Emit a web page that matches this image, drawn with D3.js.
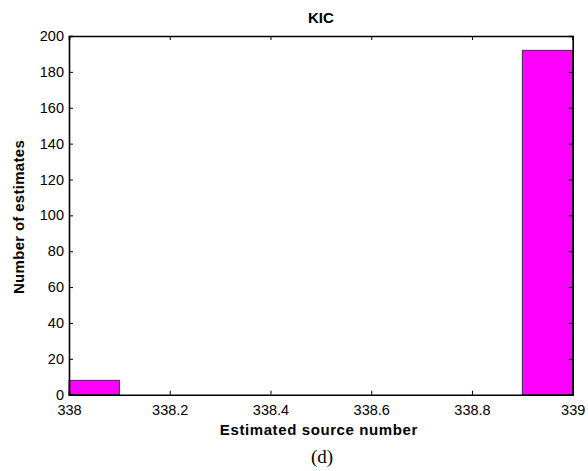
<!DOCTYPE html>
<html><head><meta charset="utf-8">
<script src="https://cdn.jsdelivr.net/npm/d3@7"></script>
<style>body{margin:0;background:#fff}svg{display:block}</style>
</head><body>
<svg id="c" width="588" height="471"></svg>
<script>
const binStarts = [338.0, 338.9];
const binEnds = [338.1, 339.0];
const counts = [8, 192];
const xTicks = [338, 338.2, 338.4, 338.6, 338.8, 339];
const yTicks = [0, 20, 40, 60, 80, 100, 120, 140, 160, 180, 200];
const title = "KIC";
const xLabel = "Estimated source number";
const yLabel = "Number of estimates";
const caption = "(d)";

const svg = d3.select("#c");
const L = 69, R = 572.7, T = 36, B = 394.7;
const x = d3.scaleLinear().domain([338, 339]).range([L, R]);
const y = d3.scaleLinear().domain([0, 200]).range([B, T]);
const font = "Liberation Sans, Arial, sans-serif";

// bars
svg.selectAll("rect.bar").data(counts).enter().append("rect")
  .attr("x", (d,i)=>x(binStarts[i]))
  .attr("y", d=>y(d))
  .attr("width", (d,i)=>x(binEnds[i])-x(binStarts[i]))
  .attr("height", d=>y(0)-y(d))
  .attr("fill", "#ff00ff").attr("stroke", "#333").attr("stroke-width", 1);

// axes (ticks inward)
const tl = 4;
const xb = svg.append("g").attr("transform", `translate(0,${B})`)
  .call(d3.axisBottom(x).tickValues(xTicks).tickSize(-tl).tickPadding(10).tickFormat(d3.format("")));
const xt = svg.append("g").attr("transform", `translate(0,${T})`)
  .call(d3.axisTop(x).tickValues(xTicks).tickSize(-tl).tickFormat(""));
const yl = svg.append("g").attr("transform", `translate(${L},0)`)
  .call(d3.axisLeft(y).tickValues(yTicks).tickSize(-tl).tickPadding(5));
const yr = svg.append("g").attr("transform", `translate(${R},0)`)
  .call(d3.axisRight(y).tickValues(yTicks).tickSize(-tl).tickFormat(""));
[xb, xt, yl, yr].forEach(g => {
  g.select(".domain").attr("stroke", "#000").attr("stroke-width", 1.6);
  g.selectAll(".tick line").attr("stroke", "#000");
  g.selectAll("text").attr("font-family", font).attr("font-size", 14.5).attr("fill", "#000");
});
xb.selectAll(".tick text").attr("dy", "0.71em");

// title and labels
svg.append("text").attr("x", (L+R)/2).attr("y", 23).attr("text-anchor", "middle")
  .attr("font-family", font).attr("font-weight", "bold").attr("font-size", 15).text(title);
svg.append("text").attr("x", (L+R)/2 - 2).attr("y", 435).attr("text-anchor", "middle")
  .attr("font-family", font).attr("font-weight", "bold").attr("font-size", 15)
  .attr("letter-spacing", 0.6).text(xLabel);
svg.append("text").attr("transform", `translate(24,217) rotate(-90)`).attr("text-anchor", "middle")
  .attr("font-family", font).attr("font-weight", "bold").attr("font-size", 15)
  .attr("letter-spacing", 0.3).text(yLabel);
svg.append("text").attr("x", 322).attr("y", 463).attr("text-anchor", "middle")
  .attr("font-family", "Liberation Serif, Times New Roman, serif").attr("font-size", 19).text(caption);
</script>
</body></html>
